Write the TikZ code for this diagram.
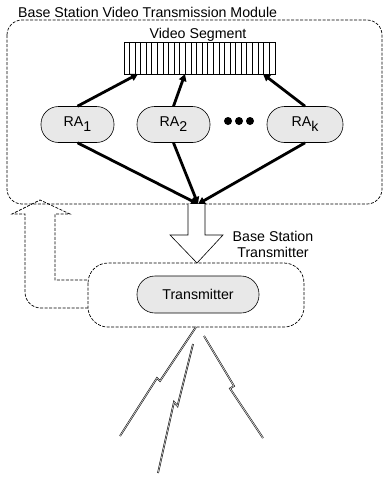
\documentclass[tikz,border=0pt]{standalone}
\usepackage{fontspec}
\setmainfont{Liberation Sans}
\usetikzlibrary{arrows.meta}
\tikzset{
  dbox/.style={draw, dash pattern=on 3pt off 1.5pt, line width=0.7pt},
  ranode/.style={draw, line width=0.6pt, fill=gray!18, rounded corners=17.5pt, minimum width=73pt, minimum height=36pt, inner sep=0pt},
  txnode/.style={draw, line width=0.6pt, fill=gray!18, rounded corners=18pt, minimum width=122pt, minimum height=37pt, inner sep=0pt},
  thickarrow/.style={line width=2.8pt, -{Triangle[length=7pt,width=7.5pt]}},
  bolt/.style={draw, line width=0.5pt, double=gray!35, double distance=0.7pt},
  lbl/.style={inner sep=0pt, font=\fontsize{14.2}{16}\selectfont}
}
\newcommand{\lowsub}[1]{\raisebox{-5pt}{#1}}
\begin{document}
\begin{tikzpicture}[x=1pt,y=-1pt]
\useasboundingbox (0,0) rectangle (383,479);
% title
\node[lbl, anchor=base west] (title) at (18,17) {Base Station Video Transmission Module};
% outer module box
\draw[dbox, rounded corners=15pt] (7,20) rectangle (382,204);
% video segment
\node[lbl, anchor=base] (vslabel) at (198,38) {Video Segment};
\node[draw, line width=0.6pt, minimum width=151pt, minimum height=32pt, inner sep=0pt] (vs) at (199.5,58) {};
\foreach \i in {1,...,26} \draw[line width=0.5pt] (vs.south west) ++(\i*151/27,0) -- ++(0,-32);
% RA nodes
\node[ranode, lbl] (ra1) at (77.5,124.5) {RA\lowsub{1}};
\node[ranode, lbl] (ra2) at (173.5,124.5) {RA\lowsub{2}};
\node[ranode, lbl, minimum width=76pt] (rak) at (305,124.5) {RA\lowsub{k}};
\fill (228,121) circle[radius=4];
\fill (239,121) circle[radius=4];
\fill (250,121) circle[radius=4];
% arrows up
\coordinate (t1) at (138,74);
\coordinate (t2) at (185,74);
\coordinate (tk) at (263,74);
\draw[thickarrow] (ra1.north) -- (t1);
\draw[thickarrow] (ra2.north) -- (t2);
\draw[thickarrow] (rak.north) -- (tk);
% arrows down
\coordinate (conv) at (198,204);
\draw[thickarrow] (ra1.south) -- (conv);
\draw[thickarrow] (ra2.south) -- (conv);
\draw[thickarrow] (rak.south) -- (conv);
% big hollow arrow
\draw[line width=0.6pt, fill=white] (188,204) -- (188,235) -- (170,235) -- (197,263) -- (223,235) -- (205,235) -- (205,204);
\node[lbl, align=center] (bst) at (273,244) {Base Station\\Transmitter};
% transmitter box
\draw[dbox, rounded corners=20pt] (88,263) rectangle (304,327);
\node[txnode, lbl] (tx) at (198,294.5) {Transmitter};
% dashed feedback arrow
\draw[dbox] (88,308) -- (41,308) .. controls (32,308) and (25,301) .. (25,292) -- (25,214) -- (12,214) -- (40,200) -- (70,214) -- (55,214) -- (55,280) -- (88,280);
% lightning bolts
\coordinate (b1a) at (196,327);
\coordinate (b1p) at (160,381);
\coordinate (b1q) at (157,378);
\coordinate (b1b) at (120,436);
\coordinate (b2a) at (193,344);
\coordinate (b2p) at (177.5,406);
\coordinate (b2q) at (174,402);
\coordinate (b2b) at (158,473);
\coordinate (b3a) at (204,336);
\coordinate (b3p) at (234,386);
\coordinate (b3q) at (230,388.5);
\coordinate (b3b) at (263,438);
\draw[bolt] (b1a) -- (b1p) -- (b1q) -- (b1b);
\draw[bolt] (b2a) -- (b2p) -- (b2q) -- (b2b);
\draw[bolt] (b3a) -- (b3p) -- (b3q) -- (b3b);
\end{tikzpicture}
\end{document}
